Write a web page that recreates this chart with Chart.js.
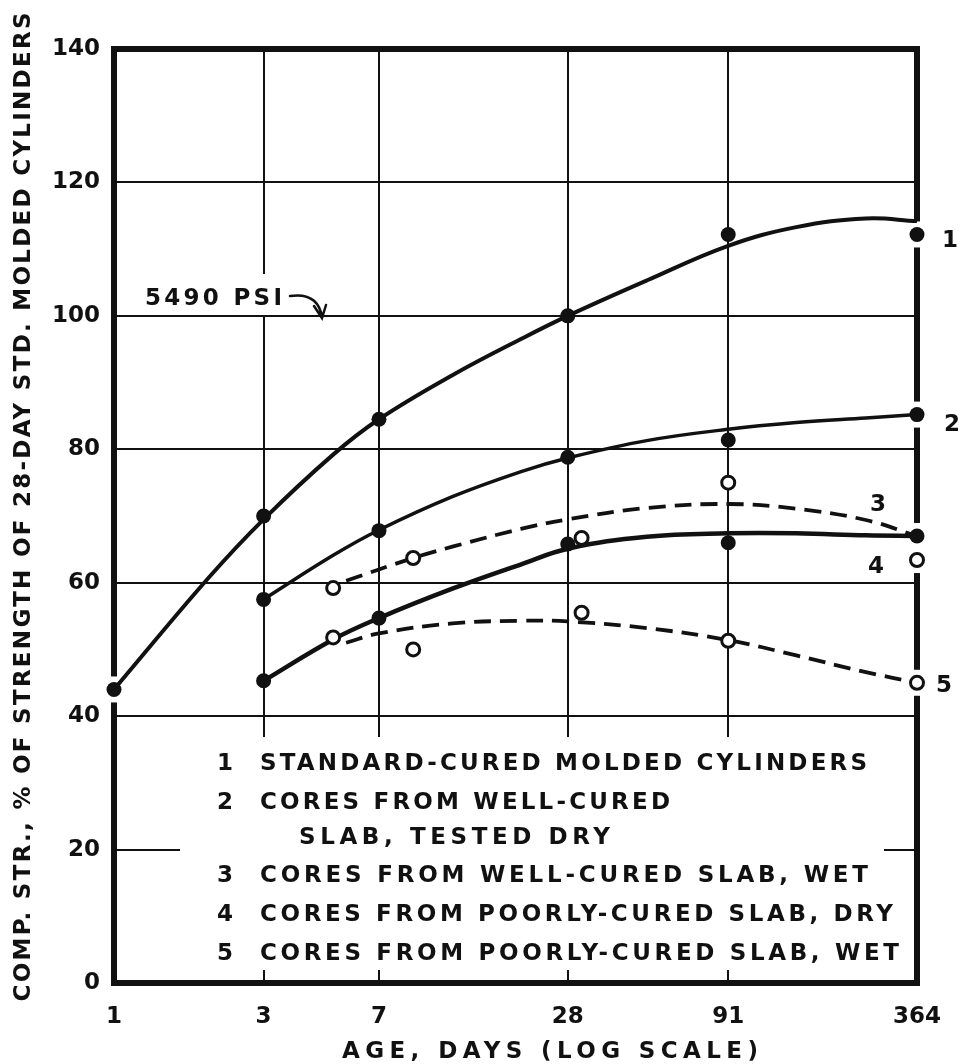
<!DOCTYPE html>
<html>
<head>
<meta charset="utf-8">
<script src="https://cdn.jsdelivr.net/npm/chart.js"></script>
<style>
  html, body { margin: 0; padding: 0; background: #fff; }
  #wrap { width: 961px; height: 1064px; }
</style>
</head>
<body>
<div id="wrap"><canvas id="chart" width="961" height="1064"></canvas></div>
<script>
// axis ticks
const xTicks = [1, 3, 7, 28, 91, 364];
const xTickLabels = ['1', '3', '7', '28', '91', '364'];
const yTicks = [0, 20, 40, 60, 80, 100, 120, 140];

const seriesTags = ['1', '2', '3', '4', '5'];
const seriesNames = [
  ['STANDARD-CURED MOLDED CYLINDERS'],
  ['CORES FROM WELL-CURED', 'SLAB, TESTED DRY'],
  ['CORES FROM WELL-CURED SLAB, WET'],
  ['CORES FROM POORLY-CURED SLAB, DRY'],
  ['CORES FROM POORLY-CURED SLAB, WET']
];

// test results (age in days, % of 28-day std. cylinder strength)
const s1Days = [1, 3, 7, 28, 91, 364];
const s1Vals = [44, 70, 84.5, 100, 112.2, 112.2];
const s2Days = [3, 7, 28, 91, 364];
const s2Vals = [57.5, 67.8, 78.8, 81.4, 85.2];
const s3Days = [5, 9, 31, 91, 364];
const s3Vals = [59.2, 63.7, 66.7, 75, 63.4];
const s4Days = [3, 7, 28, 91, 364];
const s4Vals = [45.3, 54.7, 65.8, 66, 67];
const s5Days = [5, 9, 31, 91, 364];
const s5Vals = [51.8, 50, 55.5, 51.3, 45];

// faired curves
const c1Days = [1, 2, 3, 5, 7, 12, 20, 28, 50, 91, 150, 250, 364];
const c1Vals = [44, 60.7, 69.5, 79.2, 84.5, 91.1, 96.6, 100, 105.3, 110.5, 113.3, 114.6, 114.2];
const c2Days = [3, 5, 7, 12, 20, 28, 50, 91, 150, 250, 364];
const c2Vals = [57.5, 64.1, 67.9, 72.9, 76.7, 78.7, 81.3, 83, 84, 84.7, 85.2];
const c3Days = [5.5, 9, 12, 20, 28, 50, 91, 150, 250, 364];
const c3Vals = [60.3, 63.7, 65.4, 68.1, 69.5, 71.2, 71.8, 71.1, 69.4, 67];
const c4Days = [3, 5, 7, 12, 20, 28, 50, 91, 150, 250, 364];
const c4Vals = [45.3, 51.5, 54.7, 59.1, 62.8, 65.1, 66.9, 67.4, 67.4, 67.1, 67];
const c5Days = [5.5, 7, 12, 20, 28, 50, 91, 150, 250, 364];
const c5Vals = [51, 52.4, 53.9, 54.3, 54.2, 53.2, 51.4, 49.1, 46.6, 45];

const FONT = '"DejaVu Sans", sans-serif';
const INK = '#111';

const pts = (xs, ys) => xs.map((x, i) => ({ x: x, y: ys[i] }));

function curve(xs, ys, width, dash) {
  return {
    data: pts(xs, ys),
    showLine: true,
    pointRadius: 0,
    borderColor: INK,
    borderWidth: width,
    borderDash: dash || [],
    tension: 0.4,
    clip: false,
    order: 2
  };
}

function marks(xs, ys, open) {
  return {
    data: pts(xs, ys),
    showLine: false,
    pointRadius: open ? 6.5 : 7.5,
    pointHoverRadius: open ? 6.5 : 7.5,
    pointBackgroundColor: open ? '#fff' : INK,
    pointBorderColor: INK,
    pointBorderWidth: open ? 3 : 0,
    clip: false,
    order: 1
  };
}

// text stretched to a given width, like hand lettering
function spaced(ctx, str, x, cy, width, size, align) {
  ctx.save();
  ctx.font = 'bold ' + size + 'px ' + FONT;
  ctx.fillStyle = INK;
  ctx.letterSpacing = '0px';
  const w = ctx.measureText(str).width;
  const gap = str.length > 1 ? (width - w) / (str.length - 1) : 0;
  ctx.letterSpacing = gap + 'px';
  ctx.textAlign = 'left';
  ctx.textBaseline = 'alphabetic';
  const x0 = align === 'center' ? x - width / 2 : x;
  ctx.fillText(str, x0, cy + size * 0.365);
  ctx.restore();
}

function plain(ctx, str, x, cy, size) {
  ctx.save();
  ctx.font = 'bold ' + size + 'px ' + FONT;
  ctx.fillStyle = INK;
  ctx.textAlign = 'center';
  ctx.textBaseline = 'alphabetic';
  ctx.fillText(str, x, cy + size * 0.365);
  ctx.restore();
}

const framePlugin = {
  id: 'frame',
  beforeDatasetsDraw(chart) {
    const { ctx, chartArea: a, scales } = chart;
    ctx.save();
    ctx.fillStyle = '#fff';
    // legend panel hides the grid
    ctx.fillRect(a.left + 66, a.bottom - 246, a.right - a.left - 99, 233);
    // label panel
    ctx.fillRect(a.left + 26, a.top + 225, 152, 41);

    ctx.strokeStyle = INK;
    ctx.lineWidth = 6;
    ctx.strokeRect(a.left, a.top, a.right - a.left, a.bottom - a.top);

    // breaks in the frame where edge points sit
    ctx.fillStyle = '#fff';
    const all = [[s1Days, s1Vals], [s2Days, s2Vals], [s3Days, s3Vals], [s4Days, s4Vals], [s5Days, s5Vals]];
    all.forEach(([xs, ys]) => {
      xs.forEach((d, i) => {
        if (d === xTicks[0] || d === xTicks[xTicks.length - 1]) {
          const px = scales.x.getPixelForValue(d);
          const py = scales.y.getPixelForValue(ys[i]);
          ctx.fillRect(px - 6, py - 13, 12, 26);
        }
      });
    });
    ctx.restore();
  },
  afterDraw(chart) {
    const { ctx } = chart;

    // axis titles
    ctx.save();
    ctx.translate(22, 507);
    ctx.rotate(-Math.PI / 2);
    spaced(ctx, 'COMP. STR., % OF STRENGTH OF 28-DAY STD. MOLDED CYLINDERS', 0, 0, 989, 23, 'center');
    ctx.restore();
    spaced(ctx, 'AGE, DAYS (LOG SCALE)', 550, 1050, 416, 23, 'center');

    // legend
    const rows = [
      [762, [[260, 607]]],
      [801, [[260, 410], [299, 311]]],
      [874, [[260, 608]]],
      [913, [[260, 633]]],
      [952, [[260, 639]]]
    ];
    rows.forEach(([cy, spans], i) => {
      plain(ctx, seriesTags[i], 225, cy, 23);
      seriesNames[i].forEach((line, j) => {
        spaced(ctx, line, spans[j][0], cy + j * 35, spans[j][1], 23, 'left');
      });
    });

    // curve numbers
    const tagAt = [[950, 239], [952, 423], [878, 503], [876, 565], [944, 684]];
    tagAt.forEach(([x, y], i) => plain(ctx, seriesTags[i], x, y, 23));

    // 5490 PSI note
    spaced(ctx, '5490 PSI', 145, 297, 137, 23, 'left');
    ctx.save();
    ctx.strokeStyle = INK;
    ctx.lineWidth = 2.5;
    ctx.lineCap = 'round';
    ctx.beginPath();
    ctx.moveTo(290, 296);
    ctx.quadraticCurveTo(318, 292, 322, 317);
    ctx.moveTo(314, 306);
    ctx.lineTo(322, 318);
    ctx.lineTo(326, 305);
    ctx.stroke();
    ctx.restore();
  }
};

const tickFont = { family: FONT, size: 23, weight: 'bold' };
const clear = 'rgba(0,0,0,0)';

new Chart(document.getElementById('chart'), {
  type: 'scatter',
  data: {
    datasets: [
      curve(c1Days, c1Vals, 4),
      curve(c2Days, c2Vals, 3.5),
      curve(c3Days, c3Vals, 3.8, [17, 9]),
      curve(c4Days, c4Vals, 4.5),
      curve(c5Days, c5Vals, 3.8, [17, 9]),
      marks(s1Days, s1Vals, false),
      marks(s2Days, s2Vals, false),
      marks(s3Days, s3Vals, true),
      marks(s4Days, s4Vals, false),
      marks(s5Days, s5Vals, true)
    ]
  },
  options: {
    responsive: false,
    animation: false,
    events: [],
    layout: { padding: { top: 49, right: 44, left: 0, bottom: 0 } },
    plugins: {
      legend: { display: false },
      tooltip: { enabled: false }
    },
    scales: {
      x: {
        type: 'logarithmic',
        min: 1,
        max: 364,
        afterBuildTicks: s => { s.ticks = xTicks.map(v => ({ value: v })); },
        afterFit: s => { s.height = 81; s.paddingLeft = 0; s.paddingRight = 0; },
        ticks: {
          autoSkip: false,
          maxRotation: 0,
          padding: 20,
          color: INK,
          font: tickFont,
          callback: (v, i) => xTickLabels[i]
        },
        grid: {
          color: c => (c.tick && (c.tick.value === 1 || c.tick.value === 364)) ? clear : INK,
          lineWidth: 2,
          drawTicks: false
        },
        border: { display: false }
      },
      y: {
        type: 'linear',
        min: 0,
        max: 140,
        afterBuildTicks: s => { s.ticks = yTicks.map(v => ({ value: v })); },
        afterFit: s => { s.width = 114; s.paddingTop = 0; s.paddingBottom = 0; },
        ticks: {
          padding: 14,
          color: INK,
          font: tickFont
        },
        grid: {
          color: c => (c.tick && (c.tick.value === 0 || c.tick.value === 140)) ? clear : INK,
          lineWidth: 2,
          drawTicks: false
        },
        border: { display: false }
      }
    }
  },
  plugins: [framePlugin]
});
</script>
</body>
</html>
